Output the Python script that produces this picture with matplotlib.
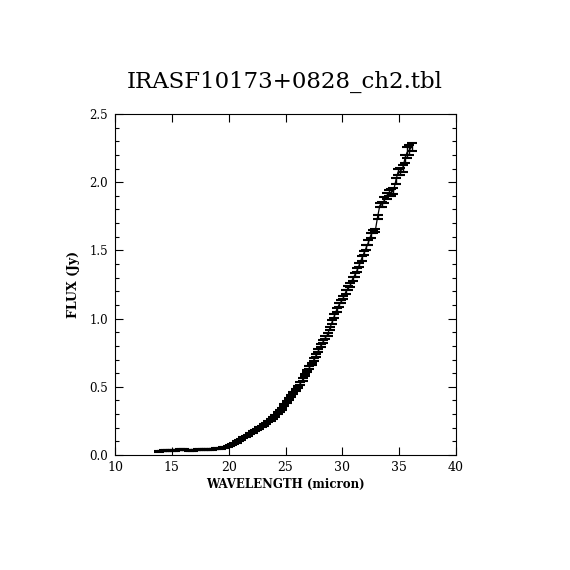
import matplotlib
matplotlib.use("Agg")
import matplotlib.pyplot as plt
from matplotlib.ticker import MultipleLocator, FormatStrFormatter

title = "IRASF10173+0828_ch2.tbl"
xlabel = "WAVELENGTH (micron)"
ylabel = "FLUX (Jy)"

wavelength = [13.9, 14.1, 14.3, 14.5, 14.7, 14.9, 15.1, 15.3, 15.5, 15.7,
              15.9, 16.1, 16.3, 16.5, 16.7, 16.9, 17.1, 17.3, 17.5, 17.7,
              17.9, 18.1, 18.3, 18.5, 18.7, 18.9, 19.1, 19.3, 19.5, 19.7,
              19.9, 20.1, 20.3, 20.5, 20.7, 20.9, 21.1, 21.3, 21.5, 21.7,
              21.9, 22.1, 22.3, 22.5, 22.7, 22.9, 23.1, 23.3, 23.5, 23.7,
              23.9, 24.1, 24.3, 24.5, 24.7, 24.9, 25.1, 25.3, 25.5, 25.7,
              25.9, 26.1, 26.3, 26.5, 26.7, 26.9, 27.1, 27.3, 27.5, 27.7,
              27.9, 28.1, 28.3, 28.5, 28.7, 28.9, 29.1, 29.3, 29.5, 29.7,
              29.9, 30.1, 30.3, 30.5, 30.7, 30.9, 31.1, 31.3, 31.5, 31.7,
              31.9, 32.1, 32.3, 32.5, 32.7, 32.9, 33.1, 33.3, 33.5, 33.7,
              33.9, 34.1, 34.3, 34.5, 34.7, 34.9, 35.1, 35.3, 35.5, 35.7,
              35.9, 36.1]

flux = [0.028, 0.029, 0.030, 0.031, 0.032, 0.033, 0.034, 0.035, 0.036, 0.040,
        0.041, 0.040, 0.036, 0.034, 0.034, 0.035, 0.036, 0.038, 0.040, 0.041,
        0.042, 0.042, 0.043, 0.043, 0.044, 0.045, 0.047, 0.050, 0.054, 0.058,
        0.062, 0.070, 0.078, 0.086, 0.095, 0.105, 0.115, 0.125, 0.135, 0.145,
        0.157, 0.168, 0.178, 0.188, 0.198, 0.208, 0.220, 0.232, 0.245, 0.258,
        0.272, 0.288, 0.305, 0.322, 0.340, 0.365, 0.390, 0.412, 0.432, 0.455,
        0.478, 0.500, 0.525, 0.552, 0.585, 0.615, 0.640, 0.668, 0.700, 0.732,
        0.765, 0.800, 0.830, 0.858, 0.885, 0.930, 0.975, 1.020, 1.065, 1.100,
        1.125, 1.155, 1.195, 1.225, 1.245, 1.290, 1.320, 1.355, 1.395, 1.440,
        1.480, 1.520, 1.560, 1.610, 1.640, 1.645, 1.745, 1.830, 1.835, 1.870,
        1.900, 1.920, 1.925, 1.935, 2.010, 2.075, 2.080, 2.100, 2.170, 2.220,
        2.235, 2.260]

flux_err = [0.003, 0.003, 0.003, 0.003, 0.003, 0.003, 0.003, 0.003, 0.003, 0.003,
            0.003, 0.003, 0.003, 0.003, 0.003, 0.003, 0.003, 0.003, 0.003, 0.003,
            0.003, 0.003, 0.003, 0.003, 0.003, 0.003, 0.004, 0.004, 0.004, 0.004,
            0.004, 0.004, 0.004, 0.004, 0.004, 0.004, 0.004, 0.004, 0.005, 0.005,
            0.005, 0.005, 0.005, 0.005, 0.005, 0.005, 0.005, 0.006, 0.006, 0.006,
            0.006, 0.006, 0.007, 0.007, 0.007, 0.007, 0.007, 0.008, 0.008, 0.008,
            0.008, 0.008, 0.009, 0.009, 0.009, 0.009, 0.010, 0.010, 0.010, 0.010,
            0.011, 0.011, 0.011, 0.011, 0.012, 0.012, 0.012, 0.013, 0.013, 0.013,
            0.013, 0.014, 0.014, 0.014, 0.015, 0.015, 0.015, 0.016, 0.016, 0.016,
            0.017, 0.017, 0.018, 0.018, 0.012, 0.012, 0.012, 0.014, 0.020, 0.020,
            0.020, 0.022, 0.025, 0.022, 0.022, 0.022, 0.024, 0.026, 0.030, 0.040,
            0.035, 0.030]

plt.rcParams['font.family'] = ['DejaVu Serif']

fig = plt.figure(figsize=(5.7, 5.7), dpi=100)
ax = fig.add_axes([115/570, 115/570, 341/570, 341/570])

ax.errorbar(wavelength, flux, yerr=flux_err, color='black', linewidth=0.9,
            elinewidth=1.0, capsize=3.6, capthick=1.5)

ax.set_xlim(10, 40)
ax.set_ylim(0, 2.5)
ax.xaxis.set_major_locator(MultipleLocator(5))
ax.yaxis.set_major_locator(MultipleLocator(0.5))
ax.yaxis.set_minor_locator(MultipleLocator(0.1))
ax.tick_params(which='both', direction='in', top=True, right=True, width=0.8)
ax.tick_params(which='major', length=6)
ax.tick_params(which='minor', length=3)
ax.tick_params(axis='x', labelsize=9, pad=4)
ax.tick_params(axis='y', labelsize=8.5, pad=5)
ax.yaxis.set_major_formatter(FormatStrFormatter('%.1f'))
for s in ax.spines.values():
    s.set_linewidth(0.8)

ax.set_xlabel(xlabel, fontsize=8.5, fontweight='bold', labelpad=3)
ax.set_ylabel(ylabel, fontsize=9, fontweight='bold', labelpad=7)
fig.text(0.5, 1 - 82/570, title, ha='center', va='center', fontsize=16.5)

fig.savefig("out.png", dpi=100)
